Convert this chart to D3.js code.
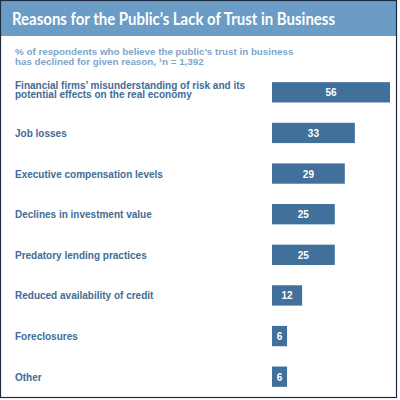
<!DOCTYPE html>
<html>
<head>
<meta charset="utf-8">
<script src="https://cdn.jsdelivr.net/npm/d3@7"></script>
<style>
  body { margin: 0; background: #fff; }
  svg { display: block; }
</style>
</head>
<body>
<div id="chart"></div>
<script>
// reasons, top to bottom
var reasons = [
    ["Financial firms\u2019 misunderstanding of risk and its", "potential effects on the real economy"],
    ["Job losses"],
    ["Executive compensation levels"],
    ["Declines in investment value"],
    ["Predatory lending practices"],
    ["Reduced availability of credit"],
    ["Foreclosures"],
    ["Other"]
];
var shares = [56, 33, 29, 25, 25, 12, 6, 6];

var title = "Reasons for the Public\u2019s Lack of Trust in Business";
var subtitle = ["% of respondents who believe the public\u2019s trust in business",
    "has declined for given reason, \u00b9n = 1,392"];

var width = 400, height = 400;
var labelFont = "'Liberation Sans', Arial, sans-serif";

var svg = d3.select("#chart")
    .append("svg")
    .attr("width", width)
    .attr("height", height);

// header band
svg.append("rect")
    .attr("x", 0).attr("y", 0)
    .attr("width", 397).attr("height", 36)
    .attr("fill", "#6b9cc6");

// title font in the original is narrower than anything installed
svg.append("text")
    .attr("x", 12).attr("y", 25)
    .attr("fill", "#fff")
    .attr("font-family", "Lato, sans-serif")
    .attr("font-weight", "bold")
    .attr("font-size", 16.5)
    .attr("textLength", 323)
    .attr("lengthAdjust", "spacingAndGlyphs")
    .text(title);

svg.append("g")
    .selectAll("text")
    .data(subtitle)
    .enter()
    .append("text")
    .attr("x", 15)
    .attr("y", function (d, i) { return 55 + i * 10; })
    .attr("fill", "#7ea6ca")
    .attr("font-family", labelFont)
    .attr("font-weight", "bold")
    .attr("font-size", 9.8)
    .text(function (d) { return d; });

var idx = d3.range(shares.length);

var y = d3.scaleBand()
    .domain(idx)
    .range([72, 397])
    .paddingInner(0.5)
    .paddingOuter(0.25);

// longest bar runs past the frame and is cut, so clamp
var x = d3.scaleLinear()
    .domain([0, 47])
    .range([272, 390])
    .clamp(true);

var rows = svg.append("g")
    .selectAll("g")
    .data(idx)
    .enter()
    .append("g");

rows.append("rect")
    .attr("x", x(0))
    .attr("y", function (d) { return y(d); })
    .attr("width", function (d) { return x(shares[d]) - x(0); })
    .attr("height", y.bandwidth())
    .attr("fill", "#41719a");

rows.append("text")
    .attr("x", function (d) { return (x(0) + x(shares[d])) / 2; })
    .attr("y", function (d) { return y(d) + y.bandwidth() / 2 + 4; })
    .attr("text-anchor", "middle")
    .attr("fill", "#fff")
    .attr("font-family", labelFont)
    .attr("font-weight", "bold")
    .attr("font-size", 10)
    .text(function (d) { return shares[d]; });

rows.append("text")
    .attr("font-family", labelFont)
    .attr("font-weight", "bold")
    .attr("font-size", 10)
    .attr("fill", "#3f6c95")
    .each(function (d) {
        var lines = reasons[d];
        var mid = y(d) + y.bandwidth() / 2;
        var top = mid + 4 - (lines.length - 1) * 11 / 2 - (lines.length > 1 ? 2 : 0);
        d3.select(this).selectAll("tspan")
            .data(lines)
            .enter()
            .append("tspan")
            .attr("x", 15)
            .attr("y", function (l, i) { return top + i * 9.5; })
            .text(function (l) { return l; });
    });

// frame
svg.append("rect")
    .attr("x", 0.5).attr("y", 0.5)
    .attr("width", 396).attr("height", 397)
    .attr("fill", "none")
    .attr("stroke", "#1d2b3c")
    .attr("stroke-width", 1.2);
</script>
</body>
</html>
